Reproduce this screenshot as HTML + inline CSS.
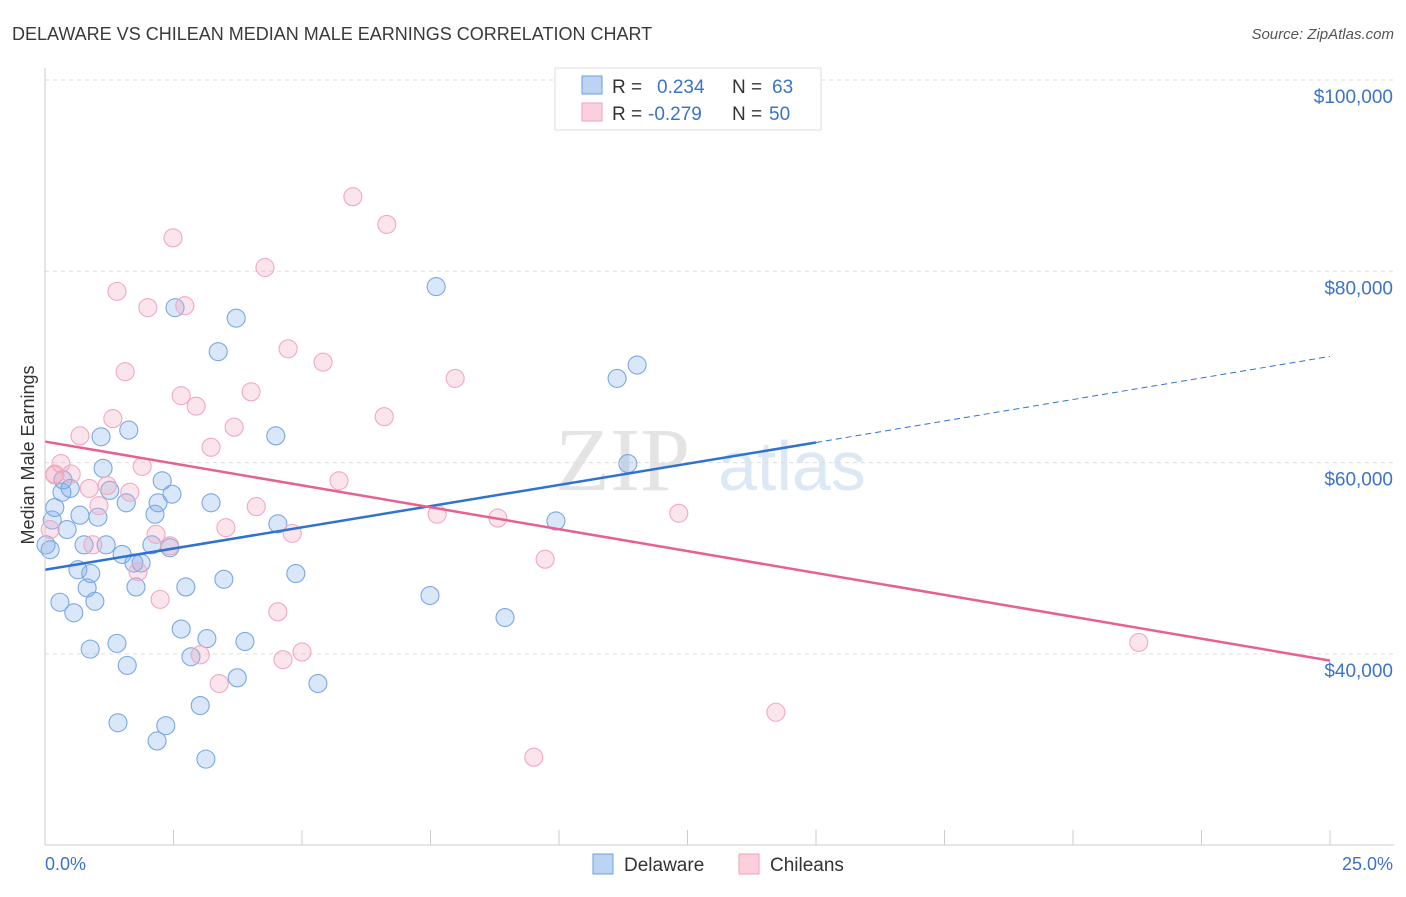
<!DOCTYPE html>
<html><head><meta charset="utf-8"><style>
body{margin:0;background:#fff;font-family:"Liberation Sans",sans-serif}
</style></head><body>
<svg id="chart" width="1406" height="892" xmlns="http://www.w3.org/2000/svg" font-family="Liberation Sans, sans-serif">
<text x="12" y="40" font-size="18" fill="#3a3a3a">DELAWARE VS CHILEAN MEDIAN MALE EARNINGS CORRELATION CHART</text>
<text x="1394" y="39" font-size="15" fill="#555" font-style="italic" text-anchor="end">Source: ZipAtlas.com</text>
<text x="555" y="490" font-size="90" fill="#e4e4e4" font-family="Liberation Serif, serif">ZIP</text>
<text x="718" y="490" font-size="70" fill="#dde8f5">atlas</text>
<g id="grid"></g><g id="pts"></g><g id="lines"></g>
<line x1="45" y1="68" x2="45" y2="845" stroke="#ccc"/>
<line x1="45" y1="845" x2="1394" y2="845" stroke="#ccc"/>
<text transform="translate(34,455) rotate(-90)" font-size="18" fill="#333" text-anchor="middle">Median Male Earnings</text>
<text x="45" y="870" font-size="18" fill="#3b73c8">0.0%</text>
<text x="1393" y="870" font-size="18" fill="#3b73c8" text-anchor="end">25.0%</text>
<g>
<rect x="555" y="68" width="266" height="62" fill="#fff" stroke="#ddd"/>
<rect x="582" y="76" width="20" height="18" fill="#bcd4f4" stroke="#6a9fe0"/>
<rect x="582" y="103" width="20" height="18" fill="#fbd0dc" stroke="#f0a0b8"/>
<text x="612" y="93" font-size="19" fill="#333">R =</text><text x="657" y="93" font-size="19" fill="#3b73c8">0.234</text>
<text x="732" y="93" font-size="19" fill="#333">N =</text><text x="772" y="93" font-size="19" fill="#3b73c8">63</text>
<text x="612" y="120" font-size="19" fill="#333">R =</text><text x="648" y="120" font-size="19" fill="#3b73c8">-0.279</text>
<text x="732" y="120" font-size="19" fill="#333">N =</text><text x="769" y="120" font-size="19" fill="#3b73c8">50</text>
</g>
<g>
<rect x="593" y="854" width="20" height="20" fill="#bcd4f4" stroke="#6a9fe0"/>
<text x="624" y="871" font-size="19" fill="#333">Delaware</text>
<rect x="739" y="854" width="20" height="20" fill="#fbd0dc" stroke="#f0a0b8"/>
<text x="770" y="871" font-size="19" fill="#333">Chileans</text>
</g>
</svg>
<script>
const yTicks=[40,60,80,100];
const yTickLabels=["$40,000","$60,000","$80,000","$100,000"];
const xTicks=[0,2.5,5,7.5,10,12.5,15,17.5,20,22.5,25];
const delX=[2.53,3.72,3.37,1.63,1.09,4.49,7.61,11.13,11.52,11.34,1.13,2.28,0.35,0.49,0.33,1.26,1.58,2.20,2.47,3.23,0.19,0.68,1.03,2.14,0.14,4.53,9.94,0.43,0.76,1.19,2.08,2.43,1.50,1.87,1.73,0.64,0.89,2.74,3.48,4.88,0.82,1.77,0.29,0.97,0.56,7.49,8.95,2.65,3.15,3.89,1.40,0.88,2.84,1.60,3.74,5.31,3.02,1.42,2.35,2.18,3.13,0.10,0.02];
const delY=[76.2,75.1,71.6,63.4,62.7,62.8,78.4,68.8,70.2,59.9,59.4,58.1,58.2,57.3,56.9,57.1,55.8,55.8,56.7,55.8,55.3,54.5,54.3,54.6,54.0,53.6,53.9,53.0,51.4,51.4,51.4,51.1,50.4,49.5,49.5,48.8,48.4,47.0,47.8,48.4,46.9,47.0,45.4,45.5,44.3,46.1,43.8,42.6,41.6,41.3,41.1,40.5,39.7,38.8,37.5,36.9,34.6,32.8,32.5,30.9,29.0,50.9,51.4];
const chiX=[5.99,6.65,2.49,4.28,1.40,2.00,2.72,4.73,5.41,1.56,7.98,2.65,2.94,4.01,1.32,6.60,3.68,0.68,3.23,1.89,0.31,0.51,0.19,1.21,0.86,1.65,5.72,4.11,1.05,3.52,2.16,4.81,7.63,8.81,12.33,0.93,2.43,9.73,1.81,2.24,4.53,3.02,5.00,4.63,3.39,21.28,14.22,9.51,0.10,0.19];
const chiY=[87.8,84.9,83.5,80.4,77.9,76.2,76.4,71.9,70.5,69.5,68.8,67.0,65.9,67.4,64.6,64.8,63.7,62.8,61.6,59.6,59.9,58.8,58.8,57.6,57.3,56.9,58.1,55.4,55.5,53.2,52.5,52.6,54.6,54.2,54.7,51.4,51.3,49.9,48.6,45.7,44.4,39.9,40.2,39.4,36.9,41.2,33.9,29.2,53.0,58.7];
const delTrend=[48.8,62.1,71.1];
const delTrendX=[0,15,25];
const chiTrend=[62.2,39.3];
const chiTrendX=[0,25];
const NS="http://www.w3.org/2000/svg";
const sx=v=>45+v*51.4, sy=v=>80+(100-v)*9.565;
function mk(tag,attrs,parent){const e=document.createElementNS(NS,tag);for(const k in attrs)e.setAttribute(k,attrs[k]);parent.appendChild(e);return e;}
const grid=document.getElementById('grid');
yTicks.forEach((t,i)=>{
 const l=mk('line',{x1:45,x2:1394,y1:sy(t),y2:sy(t),stroke:'#ddd','stroke-dasharray':'4,4'},grid);
 
 
 const tx=mk('text',{x:1393,y:sy(t)+23,'font-size':19,fill:'#3b73c8','text-anchor':'end'},grid);
 tx.textContent=yTickLabels[i];
 
 
});
xTicks.forEach(t=>{
 const l=mk('line',{x1:sx(t),x2:sx(t),y1:830,y2:845,stroke:'#ccc'},grid);
 
 
});
const pts=document.getElementById('pts');
delX.forEach((x,i)=>{
 const c=mk('circle',{cx:sx(x),cy:sy(delY[i]),r:9,fill:'rgba(120,170,235,0.28)',stroke:'#7aa8e4','stroke-width':1.1},pts);
 
 
});
chiX.forEach((x,i)=>{
 const c=mk('circle',{cx:sx(x),cy:sy(chiY[i]),r:9,fill:'rgba(242,160,188,0.28)',stroke:'#f2a8c0','stroke-width':1.1},pts);
 
 
});
const lines=document.getElementById('lines');
const b1=mk('line',{x1:sx(delTrendX[0]),y1:sy(delTrend[0]),x2:sx(delTrendX[1]),y2:sy(delTrend[1]),stroke:'#2e72d2','stroke-width':2.5},lines);


const b2=mk('line',{x1:sx(delTrendX[1]),y1:sy(delTrend[1]),x2:sx(delTrendX[2]),y2:sy(delTrend[2]),stroke:'#2e72d2','stroke-width':1,'stroke-dasharray':'6,4'},lines);


const p1=mk('line',{x1:sx(chiTrendX[0]),y1:sy(chiTrend[0]),x2:sx(chiTrendX[1]),y2:sy(chiTrend[1]),stroke:'#e8608f','stroke-width':2.5},lines);


</script>
</body></html>
